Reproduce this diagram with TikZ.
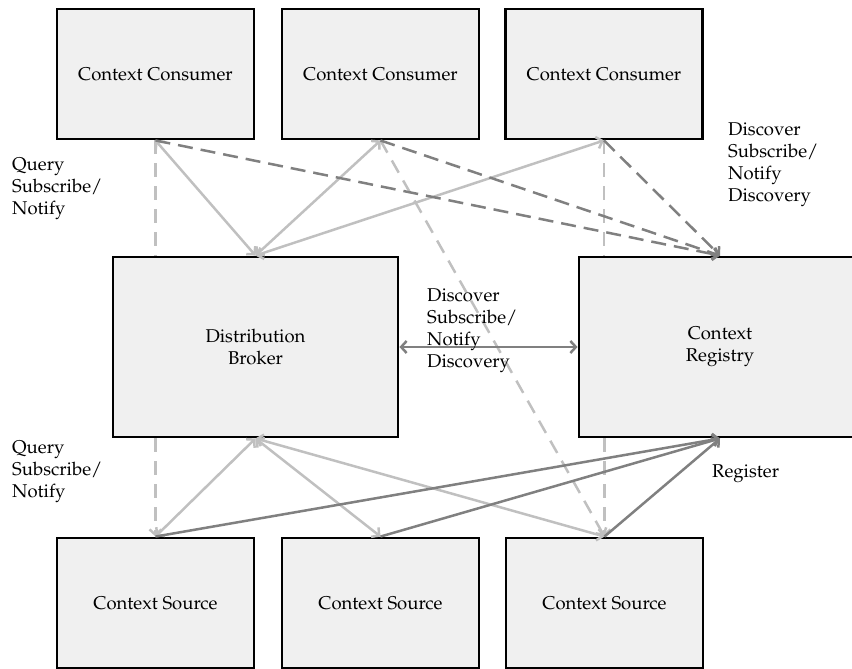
\documentclass[tikz,border=0pt]{standalone}
\usepackage[T1]{fontenc}
\usepackage{mathpazo}
\usetikzlibrary{arrows.meta}
\definecolor{boxfill}{HTML}{F0F0F0}
\definecolor{lightline}{HTML}{C0C0C0}
\definecolor{darkline}{HTML}{808080}
\begin{document}
\begin{tikzpicture}[x=1pt,y=-1pt,
  txt/.style={font=\fontsize{18.5}{22}\selectfont},
  unit/.style={txt, draw=black, line width=2.9pt, fill=boxfill, inner sep=0pt,
    minimum width=197pt, minimum height=130pt, align=center},
  hub/.style={unit, minimum width=285pt, minimum height=180pt},
  lbl/.style={txt, align=left, anchor=north west, inner sep=0pt},
  tip/.tip={Straight Barb[length=5.5pt,width=12pt]},
  light/.style={draw=lightline, line width=2.5pt},
  dark/.style={draw=darkline, line width=2.5pt},
  lightdash/.style={light, dash pattern=on 14pt off 9pt},
  darkdash/.style={dark, dash pattern=on 15pt off 8pt}]
\useasboundingbox (0,0) rectangle (852,669);

% components
\node[unit] (c1) at (155.5,74) {Context Consumer};
\node[unit] (c2) at (380.5,74) {Context Consumer};
\node[unit] (c3) at (604,74) {Context Consumer};
\node[hub] (broker) at (255.5,347) {Distribution\\Broker};
\node[hub, minimum width=282pt] (registry) at (720,347) {Context\\Registry};
\node[unit] (s1) at (155.5,603) {Context Source};
\node[unit] (s2) at (380.5,603) {Context Source};
\node[unit] (s3) at (604.5,603) {Context Source};

% consumers <-> broker / registry
\draw[lightdash] (c1.south) -- (broker.north -| c1.south);
\draw[lightdash] (c3.south) -- (registry.north -| c3.south);
\draw[lightdash, -tip] (c2.south) -- (s3.north);
\draw[light, tip-tip] (c1.south) -- (broker.north);
\draw[light, tip-tip] (c2.south) -- (broker.north);
\draw[light, tip-tip] (c3.south) -- (broker.north);
\draw[darkdash, -tip] (c1.south) -- (registry.north);
\draw[darkdash, -tip] (c2.south) -- (registry.north);
\draw[darkdash, -tip] (c3.south) -- (registry.north);

% broker <-> registry
\draw[dark, tip-tip] (broker.east) -- (registry.west);

% sources <-> broker / registry
\draw[lightdash, -tip] (broker.south -| s1.north) -- (s1.north);
\draw[lightdash, -tip] (registry.south -| s3.north) -- (s3.north);
\draw[light, tip-tip] (broker.south) -- (s1.north);
\draw[light, tip-tip] (broker.south) -- (s2.north);
\draw[light, tip-tip] (broker.south) -- (s3.north);
\draw[dark, -tip] (s1.north) -- (registry.south);
\draw[dark, -tip] (s2.north) -- (registry.south);
\draw[dark, -tip] (s3.north) -- (registry.south);

% labels
\node[lbl] (qtop) at (12,157) {Query\\Subscribe/\\Notify};
\node[lbl] (qbot) at (12,440) {Query\\Subscribe/\\Notify};
\node[lbl] (dtop) at (728,122) {Discover\\Subscribe/\\Notify\\Discovery};
\node[lbl] (dmid) at (427,288) {Discover\\Subscribe/\\Notify\\Discovery};
\node[lbl] (reg) at (712,464) {Register};
\end{tikzpicture}
\end{document}
